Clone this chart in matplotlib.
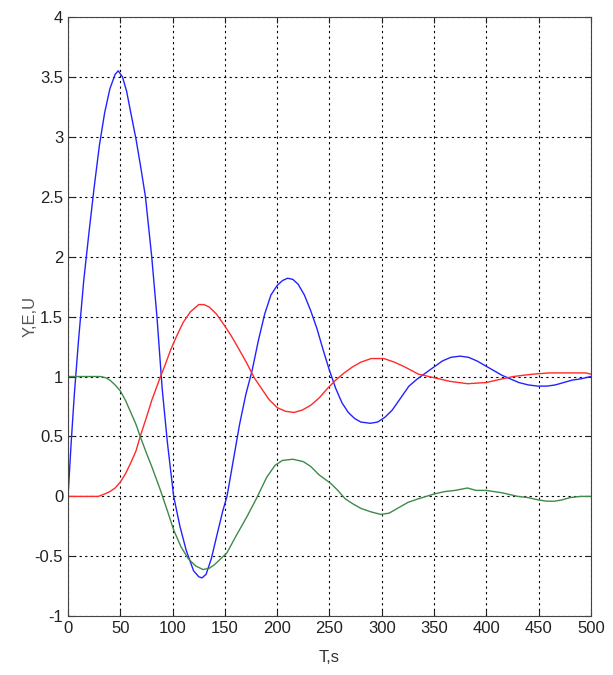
import numpy as np
import matplotlib
matplotlib.use('Agg')
import matplotlib.pyplot as plt

plt.rcParams['font.family'] = ['Liberation Sans Narrow', 'Liberation Sans', 'DejaVu Sans']

# U - control signal (blue)
t_u = [0, 3, 6, 10, 15, 20, 25, 30, 35, 40, 45, 48, 52, 56, 60, 65, 70, 74, 80, 85, 90, 95,
       101, 107, 113, 120, 125, 128, 132, 137, 143, 148, 152, 158, 164, 170, 176, 182, 188,
       194, 200, 205, 210, 215, 220, 226, 232, 238, 244, 250, 256, 262, 268, 274, 280, 289,
       296, 303, 310, 318, 326, 334, 342, 350, 358, 366, 375, 383, 391, 399, 407, 415, 423,
       431, 440, 449, 458, 466, 474, 482, 490, 500]
u = [0, 0.45, 0.85, 1.3, 1.8, 2.2, 2.58, 2.93, 3.2, 3.4, 3.52, 3.55, 3.5, 3.38, 3.2, 2.98,
     2.72, 2.5, 2.0, 1.5, 0.9, 0.45, 0.0, -0.25, -0.45, -0.62, -0.67, -0.68, -0.65, -0.52,
     -0.3, -0.12, 0.0, 0.3, 0.6, 0.85, 1.05, 1.3, 1.52, 1.68, 1.76, 1.8, 1.82, 1.81, 1.77,
     1.68, 1.55, 1.4, 1.22, 1.05, 0.9, 0.78, 0.7, 0.65, 0.62, 0.61, 0.62, 0.66, 0.72, 0.82,
     0.92, 0.98, 1.03, 1.08, 1.13, 1.16, 1.17, 1.16, 1.13, 1.09, 1.05, 1.01, 0.98, 0.95,
     0.93, 0.92, 0.92, 0.93, 0.95, 0.97, 0.98, 1.0]

# Y - output (red)
t_y = [0, 10, 20, 29, 35, 40, 45, 50, 55, 60, 65, 69, 75, 80, 88, 93, 98, 104, 110, 117,
       125, 130, 135, 142, 150, 156, 162, 171, 178, 185, 192, 200, 208, 216, 224, 232, 240,
       248, 256, 264, 272, 280, 290, 302, 312, 322, 335, 350, 365, 382, 400, 415, 426, 435,
       445, 460, 480, 495, 500]
y = [0, 0, 0, 0, 0.02, 0.04, 0.07, 0.12, 0.19, 0.28, 0.38, 0.5, 0.66, 0.8, 0.99, 1.1, 1.22,
     1.34, 1.45, 1.54, 1.6, 1.6, 1.58, 1.52, 1.42, 1.34, 1.25, 1.11, 0.99, 0.9, 0.81, 0.74,
     0.71, 0.7, 0.72, 0.76, 0.82, 0.9, 0.97, 1.03, 1.08, 1.12, 1.15, 1.15, 1.12, 1.08, 1.02,
     0.99, 0.96, 0.94, 0.95, 0.98, 1.0, 1.01, 1.02, 1.03, 1.03, 1.03, 1.02]

# E - error (green)
t_e = [0, 10, 20, 31, 36, 40, 45, 50, 55, 60, 65, 69, 75, 80, 88, 95, 101, 108, 115, 122,
       129, 135, 140, 146, 152, 160, 171, 180, 190, 198, 205, 215, 225, 232, 240, 251, 258,
       265, 272, 280, 290, 299, 307, 315, 325, 335, 350, 360, 370, 376, 382, 390, 400, 415,
       430, 440, 450, 458, 465, 472, 480, 490, 500]
e = [1, 1, 1, 1, 0.99, 0.97, 0.93, 0.88, 0.8, 0.7, 0.6, 0.5, 0.36, 0.25, 0.06, -0.12, -0.28,
     -0.42, -0.52, -0.58, -0.61, -0.6, -0.57, -0.52, -0.47, -0.34, -0.17, -0.02, 0.16, 0.26,
     0.3, 0.31, 0.29, 0.25, 0.18, 0.11, 0.05, -0.02, -0.06, -0.1, -0.13, -0.15, -0.14, -0.1,
     -0.05, -0.02, 0.02, 0.04, 0.05, 0.06, 0.07, 0.05, 0.05, 0.03, 0.0, -0.01, -0.03, -0.04,
     -0.04, -0.03, -0.01, 0.0, 0.0]

fig = plt.figure(figsize=(6.13, 6.75), dpi=100)
ax = fig.add_axes([0.111, 0.087, 0.853, 0.888])

ax.plot(t_u, u, color='#2222ff', lw=1.0)
ax.plot(t_y, y, color='#ff2a2a', lw=1.0)
ax.plot(t_e, e, color='#3f8a4a', lw=1.0)

ax.set_xlim(0, 500)
ax.set_ylim(-1, 4)
ax.set_xticks(np.arange(0, 501, 50))
ax.set_yticks(np.arange(-1, 4.01, 0.5))
ax.set_yticklabels(['-1', '-0.5', '0', '0.5', '1', '1.5', '2', '2.5', '3', '3.5', '4'])
ax.grid(True, color='black', linestyle=(0, (2, 3)), linewidth=0.8)
ax.tick_params(direction='in', length=4, labelsize=12, colors='#222222', top=True, right=True)
for s in ax.spines.values():
    s.set_color('#444444')
ax.set_xlabel('T,s', fontsize=12, color='#333333', labelpad=10)
ax.set_ylabel('Y,E,U', fontsize=12, color='#555555', labelpad=-2)

fig.savefig('out.png', dpi=100)
